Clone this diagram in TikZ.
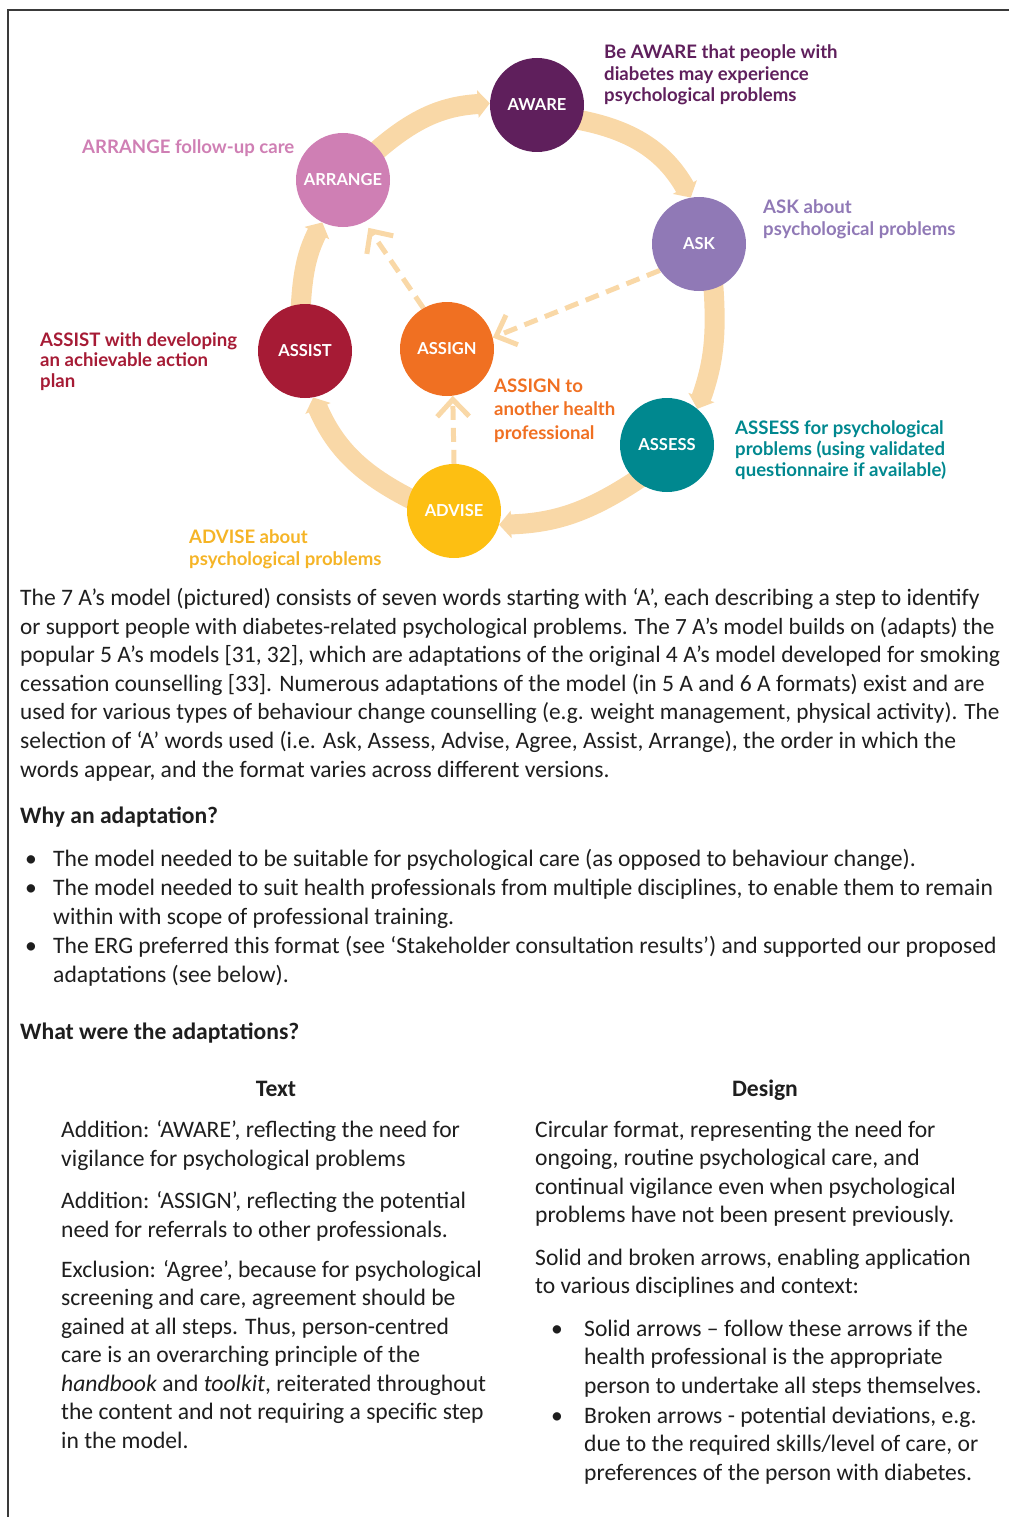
\documentclass[tikz,border=0pt]{standalone}
\usepackage{fontspec}
\setmainfont{Carlito}
\newfontfamily\labfont{Lato}
\usetikzlibrary{arrows.meta,backgrounds}

\definecolor{peach}{HTML}{F9D8A7}
\definecolor{cAware}{HTML}{5F1F5C}
\definecolor{cArrange}{HTML}{CF7FB4}
\definecolor{cAsk}{HTML}{9079B6}
\definecolor{cAssist}{HTML}{A61B35}
\definecolor{cAssign}{HTML}{F07022}
\definecolor{cAssess}{HTML}{00888F}
\definecolor{cAdvise}{HTML}{FDBF12}
\definecolor{cAdviseTxt}{HTML}{F5B426}
\definecolor{bodytext}{HTML}{1E1E1E}
\definecolor{framegray}{HTML}{3A3A3A}

% a column of text lines: name prefix, x, first baseline, pitch, style, lines
\newcommand\stacklines[6]{%
  \foreach \lineT [count=\idx from 0] in {#6} {%
    \node[#5, name=#1-\idx] at (#2, {-(#3+\idx*#4)}) {\lineT};}}
% slightly tighter setting for the longest lines
\newcommand\tightline[1]{{\fontsize{23.25}{28}\selectfont #1}}

\tikzset{
  stage/.style={circle, minimum size=94pt, inner sep=0pt, text=white,
    font=\labfont\bfseries\fontsize{16.5}{16.5}\selectfont},
  band/.style={draw=peach, line width=20pt, shorten <=-6pt,
    -{Triangle[length=12pt,width=27pt]}},
  dashlink/.style={draw=peach, line width=5pt, dash pattern=on 14pt off 8pt,
    -{Straight Barb[length=17pt,width=32pt]}},
  lbl/.style={anchor=base west, inner sep=0pt,
    font=\labfont\bfseries\fontsize{18.6}{18.6}\selectfont},
  body/.style={anchor=base west, inner sep=0pt, text=bodytext,
    font=\fontsize{23.6}{28}\selectfont},
  bodyhead/.style={body, font=\bfseries\fontsize{23.6}{28}\selectfont},
  bul/.style={anchor=base, inner sep=0pt, text=bodytext,
    font=\fontsize{23.6}{28}\selectfont},
}

\begin{document}
\begin{tikzpicture}[x=1pt,y=1pt]
\useasboundingbox (0,0) rectangle (1009,-1517);

% page frame (top and left edges)
\draw[framegray, line width=2pt] (1009,-10.5) -| (8,-1517);

% the seven steps
\node[stage, fill=cAware]   (aware)   at (537,-105) {AWARE};
\node[stage, fill=cAsk]     (ask)     at (699,-244) {ASK};
\node[stage, fill=cAssess]  (assess)  at (667,-445) {ASSESS};
\node[stage, fill=cAdvise]  (advise)  at (454,-511) {ADVISE};
\node[stage, fill=cAssist]  (assist)  at (305,-351) {ASSIST};
\node[stage, fill=cArrange] (arrange) at (343,-180) {ARRANGE};
\node[stage, fill=cAssign]  (assign)  at (447,-349) {ASSIGN};

% solid cycle and broken shortcuts, behind the circles
\begin{pgfonlayer}{background}
\draw[band] (aware.-19)   to[bend left=25] (ask.100);
\draw[band] (ask.-72)     to[bend left=12] (assess.50);
\draw[band] (assess.-131) to[bend left=16] (advise.-17);
\draw[band] (advise.164)  to[bend left=20] (assist.-80);
\draw[band] (assist.95)   to[bend left=12] (arrange.-116);
\draw[band] (arrange.41)  to[bend left=19] (aware.178);
\draw[dashlink] (ask.214) -- (assign.14);
\draw[dashlink, shorten >=7pt] (assign.120) -- (arrange.-63);
\draw[dashlink] (advise.north) -- (assign.-83);
\end{pgfonlayer}

% step descriptions
\stacklines{lAware}{604}{59}{21.5}{lbl, text=cAware}
  {{Be AWARE that people with},{diabetes may experience},{psychological problems}}
\stacklines{lArrange}{82}{154}{22}{lbl, text=cArrange}
  {{ARRANGE follow-up care}}
\stacklines{lAsk}{763}{213.5}{21.5}{lbl, text=cAsk}
  {{ASK about},{psychological problems}}
\stacklines{lAssist}{40}{346}{20.7}{lbl, text=cAssist}
  {{ASSIST with developing},{an achievable action},{plan}}
\stacklines{lAssign}{494}{392}{23.5}{lbl, text=cAssign}
  {{ASSIGN to},{another health},{professional}}
\stacklines{lAssess}{735}{434}{21}{lbl, text=cAssess}
  {{ASSESS for psychological},{problems (using validated},{questionnaire if available)}}
\stacklines{lAdvise}{189}{543}{22}{lbl, text=cAdviseTxt}
  {{ADVISE about},{psychological problems}}

% explanatory text
\stacklines{para}{20}{605.5}{28.6}{body}
  {{The 7 A’s model (pictured) consists of seven words starting with ‘A’, each describing a step to identify},
   {\tightline{or support people with diabetes-related psychological problems. The 7 A’s model builds on (adapts) the}},
   {popular 5 A’s models [31, 32], which are adaptations of the original 4 A’s model developed for smoking},
   {cessation counselling [33]. Numerous adaptations of the model (in 5 A and 6 A formats) exist and are},
   {\tightline{used for various types of behaviour change counselling (e.g. weight management, physical activity). The}},
   {selection of ‘A’ words used (i.e. Ask, Assess, Advise, Agree, Assist, Arrange), the order in which the},
   {words appear, and the format varies across different versions.}}

\node[bodyhead] (why) at (20,-823) {Why an adaptation?};
\node[bul] (b1) at (31,-866) {•};
\node[bul] (b2) at (31,-895) {•};
\node[bul] (b3) at (31,-953) {•};
\stacklines{why}{53}{866}{29.1}{body}
  {{The model needed to be suitable for psychological care (as opposed to behaviour change).},
   {The model needed to suit health professionals from multiple disciplines, to enable them to remain},
   {within with scope of professional training.},
   {The ERG preferred this format (see ‘Stakeholder consultation results’) and supported our proposed},
   {adaptations (see below).}}

\node[bodyhead] (what) at (20,-1039) {What were the adaptations?};

% two-column table
\node[bodyhead, anchor=base] (hText) at (276,-1096) {Text};
\node[bodyhead, anchor=base] (hDesign) at (765,-1096) {Design};

\stacklines{tA}{61}{1137}{29}{body}
  {{Addition: ‘AWARE’, reflecting the need for},{vigilance for psychological problems}}
\stacklines{tB}{61}{1208}{29}{body}
  {{Addition: ‘ASSIGN’, reflecting the potential},{need for referrals to other professionals.}}
\stacklines{tC}{61}{1277}{28.5}{body}
  {{Exclusion: ‘Agree’, because for psychological},
   {screening and care, agreement should be},
   {gained at all steps. Thus, person-centred},
   {care is an overarching principle of the},
   {\textit{handbook} and \textit{toolkit}, reiterated throughout},
   {the content and not requiring a specific step},
   {in the model.}}

\stacklines{dA}{535}{1137}{28.6}{body}
  {{Circular format, representing the need for},
   {ongoing, routine psychological care, and},
   {continual vigilance even when psychological},
   {problems have not been present previously.}}
\stacklines{dB}{535}{1265}{28.6}{body}
  {{Solid and broken arrows, enabling application},
   {to various disciplines and context:}}
\node[bul] (db1) at (557,-1336) {•};
\node[bul] (db2) at (557,-1423) {•};
\stacklines{dC}{584}{1336}{28.8}{body}
  {{Solid arrows – follow these arrows if the},
   {health professional is the appropriate},
   {person to undertake all steps themselves.}}
\stacklines{dD}{584}{1423}{28.6}{body}
  {{Broken arrows - potential deviations, e.g.},
   {due to the required skills/level of care, or},
   {preferences of the person with diabetes.}}
\end{tikzpicture}
\end{document}
